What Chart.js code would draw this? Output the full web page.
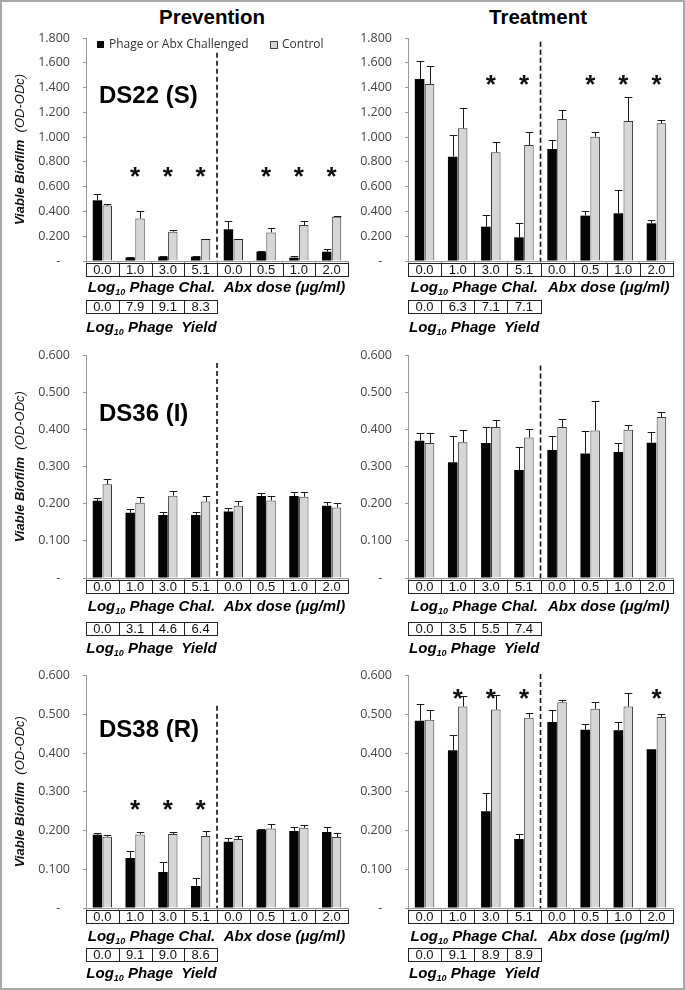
<!DOCTYPE html>
<html lang="en">
<head>
<meta charset="UTF-8">
<title>Viable biofilm - phage and antibiotic challenge</title>
<script src="https://cdn.jsdelivr.net/npm/chart.js"></script>
<style>
  body { margin: 0; background: #fff; }
  #page { position: relative; width: 685px; height: 990px; overflow: hidden; background: #fff;
          font-family: "Liberation Sans", Arial, sans-serif; }
  #frame { position: absolute; left: 0; top: 0; width: 685px; height: 990px; box-sizing: border-box;
           border: 2px solid #a8a8a8; pointer-events: none; }
  .col-title { position: absolute; top: 5px; font-weight: bold; font-size: 20.5px; line-height: 24px;
               transform: translateX(-50%); white-space: nowrap; color: #000; }
  canvas { position: absolute; }
</style>
</head>
<body>
<div id="page">
  <div class="col-title" style="left:212px">Prevention</div>
  <div class="col-title" style="left:538px">Treatment</div>
  <div id="frame"></div>
</div>

<script>
// x categories (log10 phage challenge, then antibiotic dose)
const chalLabels = ['0.0', '1.0', '3.0', '5.1', '0.0', '0.5', '1.0', '2.0'];
const seriesNames = ['Phage or Abx Challenged', 'Control'];

// DS22 (S) - prevention
const ds22PrevChal = [0.490, 0.027, 0.035, 0.035, 0.256, 0.075, 0.027, 0.075];
const ds22PrevChalErr = [0.050, 0.004, 0.004, 0.004, 0.067, 0.008, 0.016, 0.019];
const ds22PrevCtrl = [0.447, 0.344, 0.237, 0.178, 0.178, 0.231, 0.290, 0.358];
const ds22PrevCtrlErr = [0.013, 0.062, 0.013, 0.003, 0.003, 0.033, 0.030, 0.008];
const ds22PrevYield = ['0.0', '7.9', '9.1', '8.3'];
const ds22PrevStars = [0, 1, 1, 1, 0, 1, 1, 1];

// DS22 (S) - treatment
const ds22TreatChal = [1.469, 0.842, 0.277, 0.191, 0.904, 0.366, 0.385, 0.304];
const ds22TreatChalErr = [0.145, 0.172, 0.094, 0.113, 0.073, 0.040, 0.188, 0.027];
const ds22TreatCtrl = [1.429, 1.071, 0.877, 0.936, 1.146, 1.003, 1.130, 1.111];
const ds22TreatCtrlErr = [0.145, 0.167, 0.086, 0.102, 0.073, 0.035, 0.191, 0.027];
const ds22TreatYield = ['0.0', '6.3', '7.1', '7.1'];
const ds22TreatStars = [0, 0, 1, 1, 0, 1, 1, 1];

// DS36 (I) - prevention
const ds36PrevChal = [0.208, 0.176, 0.170, 0.170, 0.179, 0.221, 0.221, 0.195];
const ds36PrevChalErr = [0.007, 0.009, 0.009, 0.009, 0.009, 0.008, 0.010, 0.009];
const ds36PrevCtrl = [0.253, 0.203, 0.222, 0.206, 0.195, 0.209, 0.219, 0.190];
const ds36PrevCtrlErr = [0.013, 0.015, 0.013, 0.015, 0.013, 0.013, 0.012, 0.013];
const ds36PrevYield = ['0.0', '3.1', '4.6', '6.4'];
const ds36PrevStars = [0, 0, 0, 0, 0, 0, 0, 0];

// DS36 (I) - treatment
const ds36TreatChal = [0.370, 0.312, 0.364, 0.291, 0.345, 0.336, 0.340, 0.365];
const ds36TreatChalErr = [0.020, 0.070, 0.043, 0.063, 0.038, 0.060, 0.023, 0.029];
const ds36TreatCtrl = [0.364, 0.366, 0.407, 0.379, 0.407, 0.398, 0.400, 0.434];
const ds36TreatCtrlErr = [0.026, 0.034, 0.020, 0.024, 0.023, 0.078, 0.012, 0.014];
const ds36TreatYield = ['0.0', '3.5', '5.5', '7.4'];
const ds36TreatStars = [0, 0, 0, 0, 0, 0, 0, 0];

// DS38 (R) - prevention
const ds38PrevChal = [0.189, 0.129, 0.093, 0.057, 0.171, 0.201, 0.199, 0.196];
const ds38PrevChalErr = [0.004, 0.017, 0.027, 0.020, 0.009, 0.003, 0.009, 0.014];
const ds38PrevCtrl = [0.184, 0.190, 0.191, 0.186, 0.178, 0.205, 0.207, 0.183];
const ds38PrevCtrlErr = [0.004, 0.005, 0.004, 0.014, 0.007, 0.011, 0.006, 0.010];
const ds38PrevYield = ['0.0', '9.1', '9.0', '8.6'];
const ds38PrevStars = [0, 1, 1, 1, 0, 0, 0, 0];

// DS38 (R) - treatment
const ds38TreatChal = [0.483, 0.407, 0.250, 0.178, 0.480, 0.460, 0.459, 0.410];
const ds38TreatChalErr = [0.044, 0.039, 0.048, 0.013, 0.030, 0.014, 0.021, 0];
const ds38TreatCtrl = [0.486, 0.520, 0.512, 0.491, 0.531, 0.514, 0.520, 0.493];
const ds38TreatCtrlErr = [0.024, 0.026, 0.038, 0.012, 0.006, 0.017, 0.035, 0.008];
const ds38TreatYield = ['0.0', '9.1', '8.9', '8.9'];
const ds38TreatStars = [0, 1, 1, 1, 0, 0, 0, 1];

const SANS = '"Liberation Sans", Arial, sans-serif';

// column / row geometry of the page
const cols = [
  { x: 0, w: 355, yAxisW: 86, padRight: 7 },
  { x: 340, w: 345, yAxisW: 68, padRight: 12 }
];
const rows = [
  { y: 0, h: 338, plotTop: 38, plotBottom: 261, tab: 1.5, grp: 26, yld: 39, yldLbl: 66 },
  { y: 335, h: 332, plotTop: 355, plotBottom: 578, tab: 2, grp: 28, yld: 44, yldLbl: 70 },
  { y: 655, h: 335, plotTop: 675, plotBottom: 908, tab: 2, grp: 28, yld: 40, yldLbl: 65 }
];

const panels = [
  { row: 0, col: 0, name: 'DS22 (S)', chal: ds22PrevChal, chalErr: ds22PrevChalErr, ctrl: ds22PrevCtrl, ctrlErr: ds22PrevCtrlErr,
    yieldVals: ds22PrevYield, stars: ds22PrevStars, max: 1.8, step: 0.2, starAt: 0.735, dashTop: 1.68, legend: true, yTitle: true },
  { row: 0, col: 1, name: null, chal: ds22TreatChal, chalErr: ds22TreatChalErr, ctrl: ds22TreatCtrl, ctrlErr: ds22TreatCtrlErr,
    yieldVals: ds22TreatYield, stars: ds22TreatStars, max: 1.8, step: 0.2, starAt: 1.48, dashTop: 1.77 },
  { row: 1, col: 0, name: 'DS36 (I)', chal: ds36PrevChal, chalErr: ds36PrevChalErr, ctrl: ds36PrevCtrl, ctrlErr: ds36PrevCtrlErr,
    yieldVals: ds36PrevYield, stars: ds36PrevStars, max: 0.6, step: 0.1, starAt: 0.3, dashTop: 0.58, yTitle: true },
  { row: 1, col: 1, name: null, chal: ds36TreatChal, chalErr: ds36TreatChalErr, ctrl: ds36TreatCtrl, ctrlErr: ds36TreatCtrlErr,
    yieldVals: ds36TreatYield, stars: ds36TreatStars, max: 0.6, step: 0.1, starAt: 0.5, dashTop: 0.573 },
  { row: 2, col: 0, name: 'DS38 (R)', chal: ds38PrevChal, chalErr: ds38PrevChalErr, ctrl: ds38PrevCtrl, ctrlErr: ds38PrevCtrlErr,
    yieldVals: ds38PrevYield, stars: ds38PrevStars, max: 0.6, step: 0.1, starAt: 0.272, dashTop: 0.522, yTitle: true },
  { row: 2, col: 1, name: null, chal: ds38TreatChal, chalErr: ds38TreatChalErr, ctrl: ds38TreatCtrl, ctrlErr: ds38TreatCtrlErr,
    yieldVals: ds38TreatYield, stars: ds38TreatStars, max: 0.6, step: 0.1, starAt: 0.557, dashTop: 0.604 }
];

// "Log10 ..." label with a subscript 10, centred on cx, cy
function drawLogLabel(ctx, rest, cx, cy, size) {
  const big = `italic bold ${size}px ${SANS}`;
  const small = `italic bold ${Math.round(size * 0.62)}px ${SANS}`;
  ctx.font = big;
  const w1 = ctx.measureText('Log').width, w3 = ctx.measureText(rest).width;
  ctx.font = small;
  const w2 = ctx.measureText('10').width;
  let x = cx - (w1 + w2 + w3) / 2;
  const base = cy + size * 0.36;
  ctx.textAlign = 'left';
  ctx.textBaseline = 'alphabetic';
  ctx.font = big; ctx.fillText('Log', x, base); x += w1;
  ctx.font = small; ctx.fillText('10', x, base + size * 0.17); x += w2;
  ctx.font = big; ctx.fillText(rest, x, base);
}

function drawCells(ctx, xs, from, to, top, h, texts) {
  const cw = xs.width / chalLabels.length;
  ctx.strokeStyle = '#222';
  ctx.lineWidth = 1;
  ctx.fillStyle = '#111';
  ctx.font = `13px ${SANS}`;
  ctx.textAlign = 'center';
  ctx.textBaseline = 'middle';
  for (let i = from; i <= to; i++) {
    const cx = xs.getPixelForValue(i);
    const l = Math.round(cx - cw / 2) + 0.5;
    const r = Math.round(cx + cw / 2) + 0.5;
    ctx.strokeRect(l, Math.round(top) + 0.5, r - l, h);
    ctx.fillText(texts[i - from], cx, top + h / 2 + 1);
  }
}

const deco = {
  id: 'deco',
  afterDatasetsDraw(chart, args, o) {
    const ctx = chart.ctx, ys = chart.scales.y, xs = chart.scales.x, ca = chart.chartArea;
    ctx.save();
    // error bars (upper side only)
    chart.data.datasets.forEach((ds, di) => {
      chart.getDatasetMeta(di).data.forEach((bar, i) => {
        const e = ds.errors[i];
        if (!e) return;
        const top = Math.round(ys.getPixelForValue(ds.data[i] + e)) + 0.5;
        const x = Math.round(bar.x) + 0.5;
        const half = bar.width * 0.4;
        ctx.strokeStyle = '#1a1a1a';
        ctx.lineWidth = 1;
        ctx.beginPath();
        ctx.moveTo(x, bar.y);
        ctx.lineTo(x, top);
        ctx.moveTo(x - half, top);
        ctx.lineTo(x + half, top);
        ctx.stroke();
      });
    });
    // dashed separator between phage and antibiotic groups
    const xSep = (xs.getPixelForValue(3) + xs.getPixelForValue(4)) / 2;
    ctx.setLineDash([5, 3]);
    ctx.lineWidth = 1.6;
    ctx.strokeStyle = '#111';
    ctx.beginPath();
    ctx.moveTo(xSep, ys.getPixelForValue(o.dashTop));
    ctx.lineTo(xSep, ca.bottom);
    ctx.stroke();
    ctx.setLineDash([]);
    // significance asterisks
    ctx.fillStyle = '#111';
    ctx.font = `bold 26px ${SANS}`;
    ctx.textAlign = 'center';
    ctx.textBaseline = 'alphabetic';
    o.stars.forEach((s, i) => {
      if (s) ctx.fillText('*', xs.getPixelForValue(i), ys.getPixelForValue(o.starAt) + 15);
    });
    ctx.restore();
  },
  afterDraw(chart, args, o) {
    const ctx = chart.ctx, xs = chart.scales.x, ca = chart.chartArea;
    ctx.save();
    // strain label
    if (o.name) {
      ctx.fillStyle = '#000';
      ctx.font = `bold 24px ${SANS}`;
      ctx.textAlign = 'left';
      ctx.textBaseline = 'alphabetic';
      ctx.fillText(o.name, o.nameX, o.nameY);
    }
    // challenge / dose table
    drawCells(ctx, xs, 0, 7, ca.bottom + o.tab, 13, chalLabels);
    const leftMid = (xs.getPixelForValue(0) + xs.getPixelForValue(3)) / 2;
    const rightMid = (xs.getPixelForValue(4) + xs.getPixelForValue(7)) / 2;
    ctx.fillStyle = '#000';
    drawLogLabel(ctx, ' Phage Chal.', leftMid, ca.bottom + o.grp, 15);
    ctx.font = `italic bold 15px ${SANS}`;
    ctx.textAlign = 'center';
    ctx.textBaseline = 'alphabetic';
    ctx.fillText('Abx dose (\u03bcg/ml)', rightMid + 2, ca.bottom + o.grp + 5.4);
    // phage yield table
    drawCells(ctx, xs, 0, 3, ca.bottom + o.yld, 13, o.yieldVals);
    ctx.fillStyle = '#000';
    drawLogLabel(ctx, ' Phage  Yield', leftMid, ca.bottom + o.yldLbl, 15);
    // y axis title
    if (o.yTitle) {
      ctx.save();
      ctx.translate(20, (ca.top + ca.bottom) / 2);
      ctx.rotate(-Math.PI / 2);
      const f1 = `italic bold 13px ${SANS}`, f2 = `italic 13px ${SANS}`;
      ctx.font = f1; const a = ctx.measureText('Viable Biofilm  ').width;
      ctx.font = f2; const b = ctx.measureText('(OD-ODc)').width;
      ctx.textAlign = 'left';
      ctx.textBaseline = 'middle';
      ctx.fillStyle = '#111';
      ctx.font = f1; ctx.fillText('Viable Biofilm  ', -(a + b) / 2, 0);
      ctx.font = f2; ctx.fillText('(OD-ODc)', -(a + b) / 2 + a, 0);
      ctx.restore();
    }
    // legend (first panel only)
    if (o.legend) {
      ctx.font = `12px "Open Sans", sans-serif`;
      ctx.textAlign = 'left';
      ctx.textBaseline = 'middle';
      ctx.fillStyle = '#050505';
      ctx.fillRect(97, 41, 7, 7);
      ctx.fillStyle = '#333';
      ctx.fillText(seriesNames[0], 109, 45);
      ctx.fillStyle = '#d6d6d6';
      ctx.fillRect(270, 41, 7, 7);
      ctx.strokeStyle = '#444';
      ctx.strokeRect(270.5, 41.5, 7, 7);
      ctx.fillStyle = '#333';
      ctx.fillText(seriesNames[1], 282, 45);
    }
    ctx.restore();
  }
};

const page = document.getElementById('page');
const frame = document.getElementById('frame');

panels.forEach(p => {
  const c = cols[p.col], r = rows[p.row];
  const cv = document.createElement('canvas');
  cv.width = c.w;
  cv.height = r.h;
  cv.style.left = c.x + 'px';
  cv.style.top = r.y + 'px';
  page.insertBefore(cv, frame);

  new Chart(cv, {
    type: 'bar',
    data: {
      labels: chalLabels,
      datasets: [
        { label: seriesNames[0], data: p.chal, errors: p.chalErr, backgroundColor: '#050505', borderColor: '#000', borderWidth: 0 },
        { label: seriesNames[1], data: p.ctrl, errors: p.ctrlErr, backgroundColor: '#d6d6d6', borderColor: '#3a3a3a', borderWidth: 1 }
      ]
    },
    options: {
      responsive: false,
      animation: false,
      layout: { padding: { left: 0, right: c.padRight, top: r.plotTop - r.y, bottom: 0 } },
      datasets: { bar: { categoryPercentage: 0.6, barPercentage: 0.96 } },
      scales: {
        x: {
          ticks: { display: false },
          grid: { display: true, drawOnChartArea: false, offset: true, tickLength: 3, color: '#999' },
          border: { color: '#999' },
          afterFit: s => { s.height = r.h - (r.plotBottom - r.y); }
        },
        y: {
          min: 0,
          max: p.max,
          ticks: {
            stepSize: p.step,
            padding: 13,
            color: '#444',
            font: { family: '"Open Sans", sans-serif', size: 12.5 },
            callback: v => (v === 0 ? '-   ' : v.toFixed(3))
          },
          grid: { drawOnChartArea: false, tickLength: 3, color: '#999' },
          border: { color: '#999' },
          afterFit: s => { s.width = c.yAxisW; }
        }
      },
      plugins: {
        legend: { display: false },
        tooltip: { enabled: false },
        deco: {
          name: p.name, nameX: 99, nameY: (p.row === 0 ? 94 : p.row === 1 ? 412 - 335 : 728 - 655) + 8.6,
          stars: p.stars, starAt: p.starAt, dashTop: p.dashTop, yieldVals: p.yieldVals,
          legend: !!p.legend, yTitle: !!p.yTitle,
          tab: r.tab, grp: r.grp, yld: r.yld, yldLbl: r.yldLbl
        }
      }
    },
    plugins: [deco]
  });
});
</script>
</body>
</html>
